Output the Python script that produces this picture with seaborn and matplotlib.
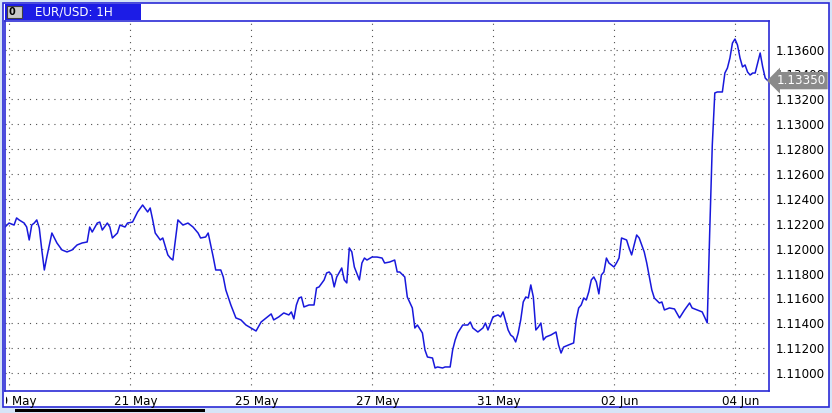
import matplotlib
matplotlib.use("Agg")
import matplotlib.pyplot as plt
import matplotlib.transforms as mtransforms
import seaborn as sns
from matplotlib.patches import Rectangle

# hourly bar index (hours from chart start) and EUR/USD close
hours = [0, 2, 4, 5, 6, 8, 9, 10, 11, 12, 13, 14, 15, 16, 17, 19, 21, 23, 25, 27,
         29, 31, 33, 34, 35, 37, 38, 39, 41, 42, 43, 45, 46, 48, 49, 51, 53, 55, 57, 58,
         59, 60, 62, 63, 65, 66, 67, 69, 71, 73, 75, 77, 78, 80, 81, 83, 84, 86, 87, 88,
         90, 92, 94, 96, 98, 100, 102, 104, 106, 107, 109, 111, 113, 114, 115, 116, 117, 118, 119, 121,
         123, 124, 125, 127, 128, 129, 130, 131, 132, 134, 135, 136, 137, 138, 139, 141, 142, 143, 144, 146,
         148, 150, 151, 153, 155, 156, 157, 159, 160, 162, 163, 164, 166, 167, 168, 170, 171, 172, 174, 175,
         177, 178, 179, 180, 182, 184, 185, 186, 188, 190, 191, 192, 194, 196, 197, 198, 200, 201, 202, 203,
         204, 205, 206, 207, 208, 209, 210, 211, 212, 213, 214, 215, 217, 219, 220, 221, 222, 224, 226, 227,
         228, 229, 230, 231, 232, 233, 234, 235, 236, 237, 238, 239, 240, 242, 243, 244, 245, 247, 248, 249,
         251, 252, 254, 255, 257, 258, 260, 261, 262, 264, 266, 268, 270, 272, 273, 275, 277, 279, 280, 281,
         282, 283, 285, 286, 287, 288, 289, 290, 291, 292, 293, 294, 295, 296, 297, 298, 299, 300, 301, 302,
         303]
prices = [1.12166, 1.12206, 1.12190, 1.12247, 1.12231, 1.12206, 1.12174, 1.12070, 1.12190, 1.12206,
          1.12231, 1.12166, 1.11990, 1.11829, 1.11934, 1.12126, 1.12046, 1.11990, 1.11974, 1.11990,
          1.12030, 1.12046, 1.12054, 1.12174, 1.12134, 1.12206, 1.12214, 1.12150, 1.12206, 1.12174,
          1.12086, 1.12126, 1.12190, 1.12174, 1.12206, 1.12214, 1.12295, 1.12351, 1.12295, 1.12327,
          1.12231, 1.12126, 1.12070, 1.12086, 1.11950, 1.11925, 1.11909, 1.12231, 1.12190, 1.12206,
          1.12174, 1.12126, 1.12086, 1.12094, 1.12126, 1.11934, 1.11829, 1.11829, 1.11773, 1.11669,
          1.11548, 1.11444, 1.11428, 1.11387, 1.11363, 1.11339, 1.11411, 1.11444, 1.11476, 1.11428,
          1.11452, 1.11484, 1.11468, 1.11492, 1.11436, 1.11548, 1.11604, 1.11612, 1.11532, 1.11548,
          1.11548, 1.11685, 1.11693, 1.11749, 1.11805, 1.11813, 1.11789, 1.11693, 1.11773, 1.11845,
          1.11749, 1.11725, 1.12006, 1.11974, 1.11853, 1.11749, 1.11885, 1.11925, 1.11909, 1.11933,
          1.11933, 1.11925, 1.11885, 1.11893, 1.11909, 1.11813, 1.11813, 1.11773, 1.11612, 1.11524,
          1.11363, 1.11387, 1.11323, 1.11187, 1.11130, 1.11122, 1.11042, 1.11050, 1.11042, 1.11050,
          1.11050, 1.11187, 1.11267, 1.11323, 1.11387, 1.11387, 1.11411, 1.11363, 1.11331, 1.11363,
          1.11403, 1.11347, 1.11452, 1.11468, 1.11452, 1.11492, 1.11347, 1.11307, 1.11291, 1.11251,
          1.11323, 1.11428, 1.11572, 1.11612, 1.11604, 1.11709, 1.11612, 1.11347, 1.11371, 1.11403,
          1.11267, 1.11291, 1.11307, 1.11331, 1.11227, 1.11162, 1.11210, 1.11227, 1.11243, 1.11428,
          1.11524, 1.11548, 1.11604, 1.11588, 1.11653, 1.11749, 1.11773, 1.11733, 1.11637, 1.11789,
          1.11813, 1.11925, 1.11885, 1.11853, 1.11885, 1.11925, 1.12086, 1.12070, 1.12006, 1.11950,
          1.12110, 1.12086, 1.11974, 1.11885, 1.11669, 1.11604, 1.11564, 1.11572, 1.11508, 1.11524,
          1.11516, 1.11444, 1.11508, 1.11564, 1.11524, 1.11508, 1.11492, 1.11404, 1.12150, 1.12833,
          1.13251, 1.13259, 1.13259, 1.13411, 1.13451, 1.13532, 1.13652, 1.13684, 1.13636, 1.13532,
          1.13460, 1.13476, 1.13419, 1.13395, 1.13411, 1.13411, 1.13492, 1.13572, 1.13460, 1.13371,
          1.13350]

date_ticks = [2, 50, 98, 146, 194, 242, 290]
date_labels = ["19 May", "21 May", "25 May", "27 May", "31 May", "02 Jun", "04 Jun"]
price_ticks = [1.110, 1.112, 1.114, 1.116, 1.118, 1.120, 1.122, 1.124,
               1.126, 1.128, 1.130, 1.132, 1.134, 1.136]
last_price = 1.13350
symbol = "EUR/USD: 1H"

W, H = 832, 413
frame_blue = "#2b2bd6"
line_blue = "#1818dc"

sns.set_style("white")
plt.rcParams["font.family"] = ["DejaVu Sans"]

fig = plt.figure(figsize=(W / 100, H / 100), dpi=100)
fig.patch.set_facecolor("#d6e4f7")

# outer white panel with blue border (behind the axes)
fig.patches.append(Rectangle((3 / W, 6 / H), 826 / W, 404 / H, transform=fig.transFigure,
                             facecolor="white", edgecolor=frame_blue, linewidth=1.2, zorder=-5))

ax = fig.add_axes([5 / W, 22 / H, 764 / W, 370 / H])
ax.set_facecolor("white")

sns.lineplot(x=hours, y=prices, ax=ax, color=line_blue, linewidth=1.1)

ax.set_xlim(0.4, 303.5)
ax.set_ylim(1.10857, 1.13829)

ax.set_xticks(date_ticks)
ax.set_xticklabels(date_labels)
ax.set_yticks(price_ticks)
ax.set_yticklabels([f"{v:.5f}" for v in price_ticks])
ax.yaxis.tick_right()
ax.tick_params(axis="both", length=0, labelsize=8.6, colors="black")
ax.tick_params(axis="y", pad=5)
ax.tick_params(axis="x", pad=3)
ax.set_xlabel("")
ax.set_ylabel("")

# date labels sit a little right of their grid lines; the first one is cut by the frame
shift = mtransforms.ScaledTranslation(6 / 100, 0, fig.dpi_scale_trans)
for lab in ax.get_xticklabels():
    lab.set_transform(lab.get_transform() + shift)
clip = mtransforms.TransformedBbox(mtransforms.Bbox([[6 / W, 0], [1, 1]]), fig.transFigure)
first = ax.get_xticklabels()[0]
first.set_clip_box(clip)
first.set_clip_on(True)

ax.grid(True, color="#505050", linestyle=(0, (1, 4.5)), linewidth=0.8)
for s in ax.spines.values():
    s.set_color(frame_blue)
    s.set_linewidth(1.2)

# current price tag
trans = mtransforms.blended_transform_factory(ax.transAxes, ax.transData)
ax.text(1.0095, last_price, f"{last_price:.5f}", transform=trans, ha="left", va="center",
        fontsize=8.6, color="white", clip_on=False, zorder=5,
        bbox=dict(boxstyle="larrow,pad=0.18", facecolor="#8a8a8a", edgecolor="none"))

# symbol header
fig.patches.append(Rectangle((5 / W, (H - 20) / H), 136 / W, 16 / H, transform=fig.transFigure,
                             facecolor="#1c1ce6", edgecolor="none", zorder=3))
fig.patches.append(Rectangle((7 / W, (H - 18) / H), 15 / W, 12 / H, transform=fig.transFigure,
                             facecolor="#c8c8c8", edgecolor="#404040", linewidth=0.8, zorder=4))
fig.text(11.5 / W, (H - 12) / H, "0", fontsize=7, fontweight="bold", color="black",
         ha="center", va="center", zorder=5)
fig.text(35 / W, (H - 12) / H, symbol, fontsize=8.6, color="white", ha="left", va="center", zorder=5)

# bottom scroll strip
fig.patches.append(Rectangle((15 / W, 1 / H), 190 / W, 3 / H, transform=fig.transFigure,
                             facecolor="black", edgecolor="none", zorder=3))

fig.savefig("out.png", dpi=100)
